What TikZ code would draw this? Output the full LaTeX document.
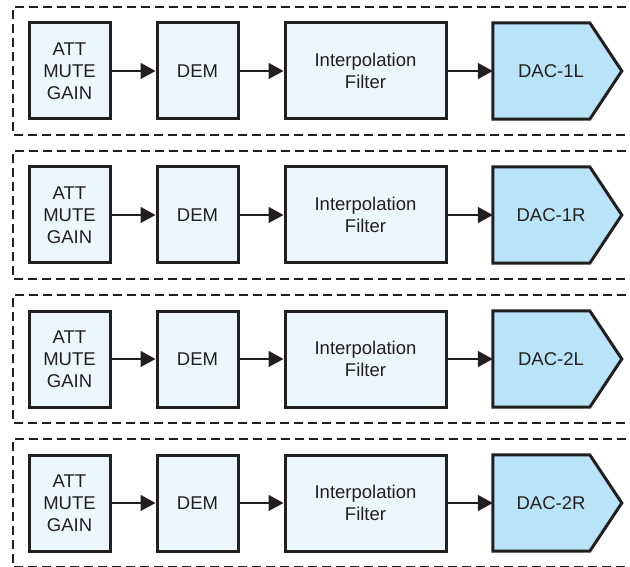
\documentclass[tikz,border=0pt]{standalone}
\usepackage{fontspec}
\setmainfont{Liberation Sans}
\usetikzlibrary{arrows.meta,backgrounds,calc}
\definecolor{lightfill}{HTML}{EEF6FD}
\definecolor{dacfill}{HTML}{B9E3F7}
\definecolor{ink}{HTML}{231F20}
\tikzset{
  x=1pt,y=-1pt,
  blk/.style={draw=ink,line width=3pt,fill=lightfill,minimum height=96pt,inner sep=0pt,
    font=\fontsize{18.5}{22}\selectfont,align=center,text=ink},
  dacbox/.style={minimum width=116pt,minimum height=96pt,inner sep=0pt,
    font=\fontsize{18.5}{22}\selectfont,text=ink},
  dacshape/.style={draw=ink,line width=3pt,fill=dacfill,line join=miter},
  conn/.style={draw=ink,line width=1.5pt,-{Triangle[length=15pt,width=16pt]}},
  group/.style={draw=ink,line width=2.8pt,dash pattern=on 9pt off 5pt},
}
\begin{document}
\begin{tikzpicture}
\useasboundingbox (0,0) rectangle (630,567);
\foreach \i/\lab in {0/1L,1/1R,2/2L,3/2R}{
  \pgfmathsetmacro{\oy}{144*\i}
  \begin{scope}[yshift={-\oy pt}]
    \draw[group] (640,7) -- (13,7) -- (13,135) -- (640,135);
    \node[blk,minimum width=81pt] (att\i) at (69.5,71) {ATT\\MUTE\\GAIN};
    \node[blk,minimum width=81pt] (dem\i) at (197.5,71) {DEM};
    \node[blk,minimum width=161pt] (int\i) at (365.5,71) {Interpolation\\Filter};
    \node[dacbox] (dac\i) at (551,71) {DAC-\lab};
    \begin{scope}[on background layer]
      \draw[dacshape] (dac\i.north west) -- ++(97,0) -- ($(dac\i.west)+(129,0)$)
        -- ($(dac\i.south west)+(97,0)$) -- (dac\i.south west) -- cycle;
    \end{scope}
    \draw[conn] (att\i.east) -- (dem\i.west);
    \draw[conn] (dem\i.east) -- (int\i.west);
    \draw[conn] (int\i.east) -- (dac\i.west);
  \end{scope}
}
\end{tikzpicture}
\end{document}
